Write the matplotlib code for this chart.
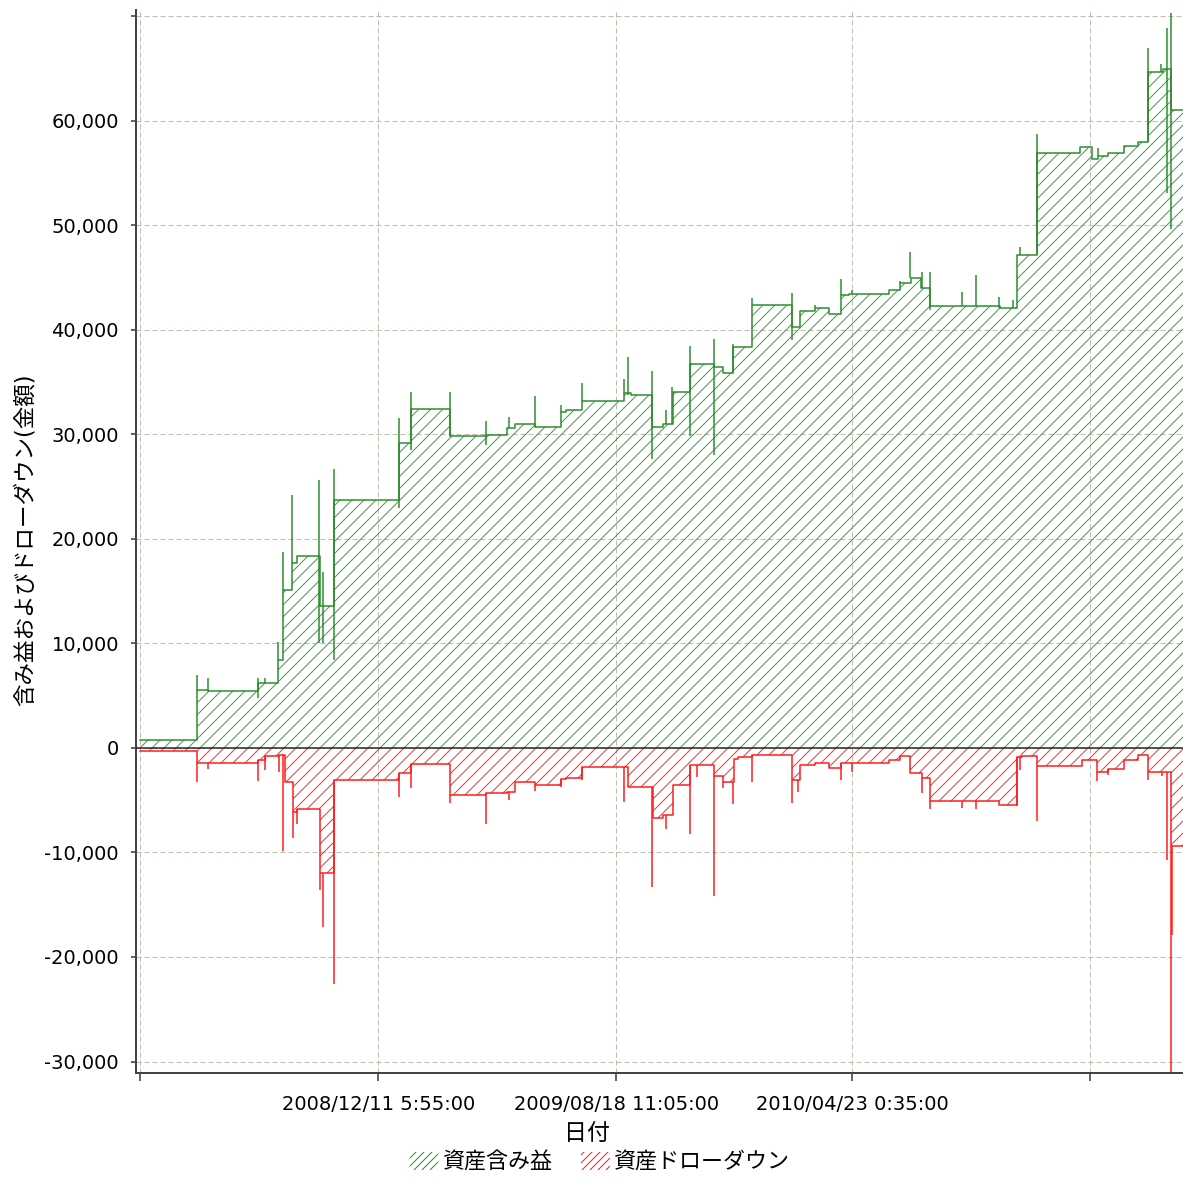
import numpy as np
import matplotlib
matplotlib.use('Agg')
import matplotlib.pyplot as plt
from matplotlib.patches import Patch

plt.rcParams['font.family'] = ['DejaVu Sans', 'Noto Sans CJK JP']
plt.rcParams['hatch.linewidth'] = 1.0

# x values: days since 2008/04/05 5:55
equity_x = [0, 60, 71, 124, 145, 150, 160, 165, 189, 204, 272, 284, 325, 363, 385, 394,
            415, 442, 447, 464, 508, 515, 538, 549, 560, 577, 603, 612, 623, 642, 685,
            693, 709, 723, 736, 744, 786, 798, 809, 820, 829, 903, 921, 942, 987, 999,
            1006, 1016, 1033, 1048, 1058, 1074, 1082]
equity_y = [800, 5550, 5450, 6200, 8400, 15100, 17700, 18400, 13600, 23700, 29200, 32400,
            29800, 29900, 30600, 31000, 30700, 32100, 32300, 33200, 34000, 33800, 30700,
            31000, 34100, 36700, 36400, 35900, 38400, 42400, 40300, 41800, 42100, 41500,
            43300, 43400, 43800, 44500, 45000, 44000, 42300, 42100, 47200, 56900, 57500,
            56300, 56600, 56900, 57600, 58000, 64700, 65000, 61000]

equity_spike_x = [60, 71, 124, 131, 145, 150, 160, 188, 192, 204, 272, 284, 325, 363, 387,
                  415, 442, 464, 508, 512, 538, 552, 559, 577, 603, 623, 642, 685, 709, 736,
                  748, 798, 808, 821, 829, 863, 878, 902, 916, 924, 942, 1006, 1058, 1072,
                  1078, 1082]
equity_spike_lo = [5550, 5450, 4800, 6200, 8400, 15100, 17700, 10000, 10000, 8400, 23000,
                   28500, 29800, 29000, 30600, 30700, 32100, 33200, 34000, 33800, 27600,
                   31000, 31000, 29800, 28000, 35900, 42400, 39000, 42100, 43300, 43400,
                   44500, 45000, 44000, 41900, 42300, 42300, 42100, 42100, 47200, 47200,
                   56600, 58000, 64700, 53100, 49600]
equity_spike_hi = [7000, 6700, 6700, 6700, 10100, 18700, 24200, 25600, 16800, 26700, 31600,
                   34100, 34100, 31300, 31700, 33700, 32800, 34900, 35300, 37400, 36100,
                   32300, 34500, 38500, 39100, 38600, 43000, 43500, 42400, 44900, 43800,
                   44700, 47400, 45500, 45500, 43600, 45200, 43100, 42900, 47900, 58700,
                   57400, 67000, 65400, 68900, 70300]

drawdown_x = [0, 60, 124, 131, 146, 152, 161, 165, 189, 204, 272, 284, 325, 363, 385, 394,
              415, 442, 447, 464, 512, 539, 549, 560, 577, 603, 612, 624, 628, 642, 685,
              693, 709, 723, 736, 786, 798, 808, 821, 829, 902, 921, 926, 942, 989, 1005,
              1016, 1033, 1048, 1058, 1082]
drawdown_y = [-300, -1400, -1150, -800, -700, -3300, -6100, -5800, -12000, -3100, -2400,
              -1550, -4500, -4300, -4200, -3300, -3500, -3000, -2900, -1800, -3700, -6700,
              -6400, -3500, -1600, -2700, -3300, -1100, -900, -700, -3100, -1600, -1400,
              -1900, -1400, -1200, -750, -2400, -2900, -5100, -5500, -900, -800, -1700,
              -1150, -2300, -2000, -1150, -700, -2300, -9400]

drawdown_spike_x = [60, 71, 124, 131, 146, 150, 161, 165, 189, 192, 204, 272, 284, 325, 363,
                    387, 415, 442, 464, 508, 538, 552, 577, 585, 603, 612, 623, 642, 685,
                    691, 736, 748, 821, 829, 863, 878, 921, 924, 942, 1005, 1016, 1058,
                    1073, 1078, 1082, 1083]
drawdown_spike_lo = [-3300, -2000, -3200, -2100, -2300, -9900, -8600, -7300, -13600, -17100,
                     -22600, -4700, -3800, -5300, -7300, -5000, -4100, -3700, -3100, -5200,
                     -13300, -7800, -8200, -2800, -14200, -3800, -5400, -3300, -5300, -4200,
                     -3100, -2300, -4300, -5800, -5700, -5800, -5600, -2100, -7000, -3200,
                     -2600, -3100, -2700, -10700, -31000, -17900]

x_end = 1095
tick_pos = [0, 250.0, 500.2, 747.8, 997.6]
tick_labels = ['', '2008/12/11 5:55:00', '2009/08/18 11:05:00', '2010/04/23 0:35:00', '']
y_ticks = [-30000, -20000, -10000, 0, 10000, 20000, 30000, 40000, 50000, 60000, 70000]
y_tick_labels = ['-30,000', '-20,000', '-10,000', '0', '10,000', '20,000', '30,000',
                 '40,000', '50,000', '60,000', '']

GREEN = '#2a8c2a'
GREEN_HATCH = '#3fa33f'
RED = '#ff1a1a'
RED_HATCH = '#ff3030'

fig = plt.figure(figsize=(1183 / 72, 1180 / 72), dpi=72)
ax = fig.add_axes([136 / 1183, 1 - 1073 / 1180, 1 - 136 / 1183, (1073 - 10) / 1180])

def level_at(xs, ys, x):
    i = np.searchsorted(xs, x, side='right') - 1
    return ys[max(i, 0)]

ex = np.array(equity_x + [x_end], dtype=float)
ey = np.array(equity_y + [equity_y[-1]], dtype=float)
dx = np.array(drawdown_x + [x_end], dtype=float)
dy = np.array(drawdown_y + [drawdown_y[-1]], dtype=float)

ax.grid(True, color='#bfbbac', linestyle=(0, (5, 3)), linewidth=1.0)
ax.set_axisbelow(True)

ax.fill_between(ex, 0, ey, step='post', facecolor='none', edgecolor=GREEN_HATCH,
                hatch='//', linewidth=0)
ax.step(ex, ey, where='post', color=GREEN, lw=1.5)
ax.vlines(equity_spike_x, equity_spike_lo, equity_spike_hi, color=GREEN, lw=1.5)

ax.fill_between(dx, 0, dy, step='post', facecolor='none', edgecolor=RED_HATCH,
                hatch='//', linewidth=0)
ax.step(dx, dy, where='post', color=RED, lw=1.5)
d_hi = [level_at(dx, dy, x) for x in drawdown_spike_x]
ax.vlines(drawdown_spike_x, drawdown_spike_lo, d_hi, color=RED, lw=1.5)

ax.axhline(0, color='#222222', lw=1.5, zorder=5)

ax.set_xlim(-4.2, x_end)
ax.set_ylim(-31100, 70600)
ax.set_xticks(tick_pos)
ax.set_xticklabels(tick_labels, fontsize=19.5)
ax.set_yticks(y_ticks)
ax.set_yticklabels(y_tick_labels, fontsize=19.5)
ax.tick_params(axis='y', direction='out', length=5, width=1.5, pad=12, color='#333333')
ax.tick_params(axis='x', direction='out', length=8, width=1.5, pad=14, color='#333333')

for s in ['top', 'right']:
    ax.spines[s].set_visible(False)
for s in ['left', 'bottom']:
    ax.spines[s].set_color('#444444')
    ax.spines[s].set_linewidth(2)

fig.text(25 / 1183, 1 - 540 / 1180, '含み益およびドローダウン(金額)', rotation=90,
         ha='center', va='center', fontsize=22.5)
fig.text(587 / 1183, 1 - 1133 / 1180, '日付', ha='center', va='center', fontsize=23)

handles = [Patch(facecolor='none', edgecolor=GREEN, hatch='///', linewidth=0),
           Patch(facecolor='none', edgecolor=RED, hatch='///', linewidth=0)]
fig.legend(handles, ['資産含み益', '資産ドローダウン'], loc='center',
           bbox_to_anchor=(600 / 1183, 1 - 1162 / 1180), ncol=2, frameon=False,
           fontsize=22, handlelength=1.3, handleheight=0.9, handletextpad=0.2,
           columnspacing=1.3)

fig.savefig('out.png', dpi=72)
